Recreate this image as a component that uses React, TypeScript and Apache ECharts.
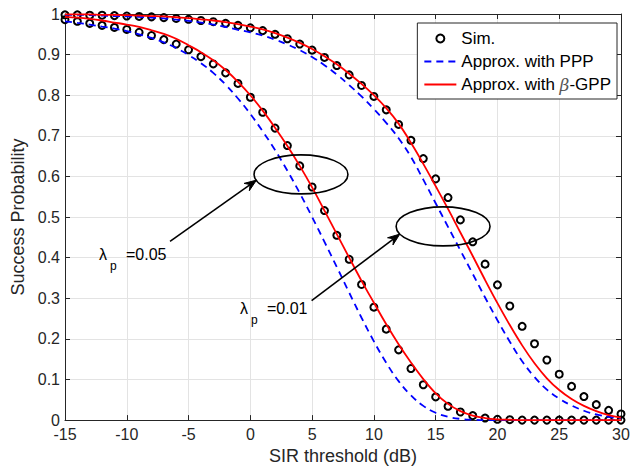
import React, { useEffect, useRef } from "react";
import * as echarts from "echarts";

const SIR = [-15, -14, -13, -12, -11, -10, -9, -8, -7, -6, -5, -4, -3, -2, -1, 0, 1, 2, 3, 4, 5, 6, 7, 8, 9, 10, 11, 12, 13, 14, 15, 16, 17, 18, 19, 20, 21, 22, 23, 24, 25, 26, 27, 28, 29, 30];

// lambda_p = 0.05
const sim005 = [0.986, 0.982, 0.977, 0.972, 0.967, 0.962, 0.955, 0.947, 0.937, 0.926, 0.912, 0.895, 0.877, 0.855, 0.829, 0.795, 0.758, 0.719, 0.676, 0.626, 0.574, 0.516, 0.455, 0.396, 0.334, 0.278, 0.224, 0.173, 0.127, 0.087, 0.057, 0.034, 0.02, 0.011, 0.005, 0.002, 0.001, 0, 0, 0, 0, 0, 0, 0, 0, 0];
const ppp005 = [0.982, 0.978, 0.974, 0.969, 0.964, 0.958, 0.95, 0.941, 0.93, 0.916, 0.899, 0.879, 0.855, 0.826, 0.792, 0.754, 0.711, 0.665, 0.614, 0.559, 0.5, 0.439, 0.377, 0.314, 0.252, 0.194, 0.141, 0.096, 0.061, 0.035, 0.018, 0.008, 0.003, 0.001, 0, 0, 0, 0, 0, 0, 0, 0, 0, 0, 0, 0];
const gpp005 = [0.993, 0.991, 0.988, 0.984, 0.979, 0.974, 0.968, 0.96, 0.951, 0.939, 0.923, 0.906, 0.886, 0.862, 0.833, 0.8, 0.762, 0.72, 0.675, 0.626, 0.573, 0.516, 0.458, 0.4, 0.343, 0.289, 0.236, 0.187, 0.142, 0.101, 0.066, 0.04, 0.022, 0.011, 0.005, 0.002, 0.001, 0, 0, 0, 0, 0, 0, 0, 0, 0];

// lambda_p = 0.01
const sim001 = [0.998, 0.998, 0.997, 0.997, 0.996, 0.995, 0.994, 0.993, 0.991, 0.989, 0.987, 0.984, 0.981, 0.977, 0.972, 0.966, 0.959, 0.95, 0.939, 0.926, 0.911, 0.893, 0.873, 0.85, 0.824, 0.797, 0.764, 0.728, 0.689, 0.644, 0.594, 0.548, 0.493, 0.439, 0.384, 0.333, 0.281, 0.231, 0.188, 0.148, 0.113, 0.083, 0.058, 0.038, 0.024, 0.015];
const ppp001 = [0.998, 0.998, 0.997, 0.996, 0.995, 0.994, 0.993, 0.991, 0.989, 0.986, 0.983, 0.979, 0.974, 0.968, 0.961, 0.955, 0.947, 0.937, 0.925, 0.911, 0.894, 0.874, 0.851, 0.825, 0.797, 0.766, 0.732, 0.694, 0.648, 0.592, 0.534, 0.476, 0.418, 0.36, 0.302, 0.246, 0.193, 0.145, 0.106, 0.075, 0.053, 0.036, 0.023, 0.014, 0.008, 0.004];
const gpp001 = [0.999, 0.999, 0.999, 0.998, 0.998, 0.997, 0.996, 0.995, 0.994, 0.992, 0.99, 0.987, 0.984, 0.98, 0.975, 0.969, 0.962, 0.953, 0.942, 0.929, 0.914, 0.896, 0.876, 0.853, 0.828, 0.8, 0.768, 0.73, 0.683, 0.631, 0.576, 0.52, 0.462, 0.404, 0.345, 0.288, 0.234, 0.184, 0.14, 0.103, 0.074, 0.052, 0.035, 0.022, 0.012, 0.006];

const LEGEND_NAMES = ["Sim.", "Approx. with PPP", "Approx. with β-GPP"];

// annotations in data coordinates (dB, probability)
const ELLIPSE_CENTERS = [[4.1, 0.605], [15.6, 0.477]];
const ELLIPSE_RADII = [3.8, 0.048];
const ARROWS = [[-6.5, 0.44, 0.5, 0.591], [4.96, 0.294, 12.1, 0.458]];
const LABELS: [number, number, string][] = [[-12.25, 0.407, "=0.05"], [-0.84, 0.274, "=0.01"]];

const FONT = '"Liberation Sans", Arial, Helvetica, sans-serif';
const AX = "#262626";

export default function App() {
  const ref = useRef<HTMLDivElement>(null);
  useEffect(() => {
    const chart = echarts.init(ref.current!, null, { renderer: "svg" });
    const pts = (arr: number[]) => SIR.map((x, i) => [x, arr[i]]);
    const simStyle = {
      type: "scatter",
      name: LEGEND_NAMES[0],
      symbol: "circle",
      symbolSize: 7,
      itemStyle: { color: "rgba(0,0,0,0)", borderColor: "#000", borderWidth: 2, opacity: 1 },
      z: 2,
    };
    const pppStyle = {
      type: "line",
      name: LEGEND_NAMES[1],
      symbol: "none",
      smooth: 0.4,
      lineStyle: { color: "#0000ff", width: 1.8, type: [7, 5] },
      itemStyle: { color: "#0000ff" },
      z: 3,
    };
    const gppStyle = {
      type: "line",
      name: LEGEND_NAMES[2],
      symbol: "none",
      smooth: 0.4,
      lineStyle: { color: "#ff0000", width: 1.8 },
      itemStyle: { color: "#ff0000" },
      z: 4,
    };
    const renderAnno = (params: any, api: any) => {
      const children: any[] = [];
      ELLIPSE_CENTERS.forEach(([cx, cy]) => {
        const c = api.coord([cx, cy]);
        const s = api.size(ELLIPSE_RADII);
        children.push({
          type: "ellipse",
          shape: { cx: c[0], cy: c[1], rx: s[0], ry: s[1] },
          style: { fill: "none", stroke: "#000", lineWidth: 1.6 },
        });
      });
      ARROWS.forEach(([x1, y1, x2, y2]) => {
        const a = api.coord([x1, y1]);
        const b = api.coord([x2, y2]);
        const ang = Math.atan2(b[1] - a[1], b[0] - a[0]);
        const cs = Math.cos(ang), sn = Math.sin(ang);
        const L = 12, W = 4.5;
        const back = [b[0] - L * cs, b[1] - L * sn];
        const notch = [b[0] - 0.65 * L * cs, b[1] - 0.65 * L * sn];
        const p1 = [back[0] + W * sn, back[1] - W * cs];
        const p2 = [back[0] - W * sn, back[1] + W * cs];
        children.push({
          type: "line",
          shape: { x1: a[0], y1: a[1], x2: notch[0], y2: notch[1] },
          style: { stroke: "#000", lineWidth: 1.6 },
        });
        children.push({
          type: "polygon",
          shape: { points: [b, p1, notch, p2] },
          style: { fill: "#000", stroke: "#000", lineWidth: 1 },
        });
      });
      LABELS.forEach(([x, y, t]) => {
        const p = api.coord([x, y]);
        children.push({
          type: "text", x: p[0], y: p[1],
          style: { text: "λ", fontSize: 16, fontFamily: FONT, fill: "#000", align: "left", verticalAlign: "middle" },
        });
        children.push({
          type: "text", x: p[0] + 11, y: p[1] + 11,
          style: { text: "p", fontSize: 12, fontFamily: FONT, fill: "#000", align: "left", verticalAlign: "middle" },
        });
        children.push({
          type: "text", x: p[0] + 27, y: p[1],
          style: { text: t, fontSize: 16, fontFamily: FONT, fill: "#000", align: "left", verticalAlign: "middle" },
        });
      });
      return { type: "group", children };
    };

    const axisCommon = {
      axisLine: { show: true, onZero: false, lineStyle: { color: AX, width: 1 } },
      axisTick: { show: true, inside: true, length: 5, lineStyle: { color: AX } },
    };

    chart.setOption({
      animation: false,
      backgroundColor: "#fff",
      grid: { left: 65, right: 19, top: 14, bottom: 46, containLabel: false },
      legend: {
        data: [
          { name: LEGEND_NAMES[0] },
          { name: LEGEND_NAMES[1], itemStyle: { opacity: 0 } },
          { name: LEGEND_NAMES[2], itemStyle: { opacity: 0 } },
        ],
        orient: "vertical",
        right: 23,
        top: 23,
        itemWidth: 32,
        itemHeight: 8,
        itemGap: 6,
        padding: [7, 6, 6, 6],
        backgroundColor: "#fff",
        borderColor: AX,
        borderWidth: 1,
        borderRadius: 0,
        formatter: (n: string) => n.replace("β", "{b|β}"),
        textStyle: {
          fontSize: 17,
          fontFamily: FONT,
          color: "#000",
          rich: { b: { fontSize: 17, fontStyle: "italic", fontFamily: '"DejaVu Serif", serif', color: "#555" } },
        },
        z: 10,
      },
      xAxis: [
        {
          type: "value", min: -15, max: 30, interval: 5,
          name: "SIR threshold (dB)", nameLocation: "middle", nameGap: 24,
          nameTextStyle: { fontSize: 18, fontFamily: FONT, color: AX },
          ...axisCommon,
          axisLabel: { fontSize: 16, fontFamily: FONT, color: AX, margin: 6 },
          splitLine: { show: true, lineStyle: { color: "#e3e3e3", width: 1 } },
        },
        {
          type: "value", min: -15, max: 30, interval: 5, position: "top",
          ...axisCommon,
          axisLabel: { show: false },
          splitLine: { show: false },
        },
      ],
      yAxis: [
        {
          type: "value", min: 0, max: 1, interval: 0.1,
          name: "Success Probability", nameLocation: "middle", nameGap: 36,
          nameTextStyle: { fontSize: 18, fontFamily: FONT, color: AX },
          ...axisCommon,
          axisLabel: { fontSize: 16, fontFamily: FONT, color: AX, margin: 5 },
          splitLine: { show: true, lineStyle: { color: "#e3e3e3", width: 1 } },
        },
        {
          type: "value", min: 0, max: 1, interval: 0.1, position: "right",
          ...axisCommon,
          axisLabel: { show: false },
          splitLine: { show: false },
        },
      ],
      series: [
        { ...simStyle, data: pts(sim005) },
        { ...simStyle, data: pts(sim001) },
        { ...pppStyle, data: pts(ppp005) },
        { ...pppStyle, data: pts(ppp001) },
        { ...gppStyle, data: pts(gpp005) },
        { ...gppStyle, data: pts(gpp001) },
        {
          type: "custom",
          name: "annotations",
          silent: true,
          clip: false,
          z: 6,
          data: [[0, 0.5]],
          renderItem: renderAnno,
        },
      ],
    });
    return () => chart.dispose();
  }, []);
  return <div ref={ref} style={{ position: "absolute", left: 0, top: 0, width: 640, height: 470 }} />;
}
